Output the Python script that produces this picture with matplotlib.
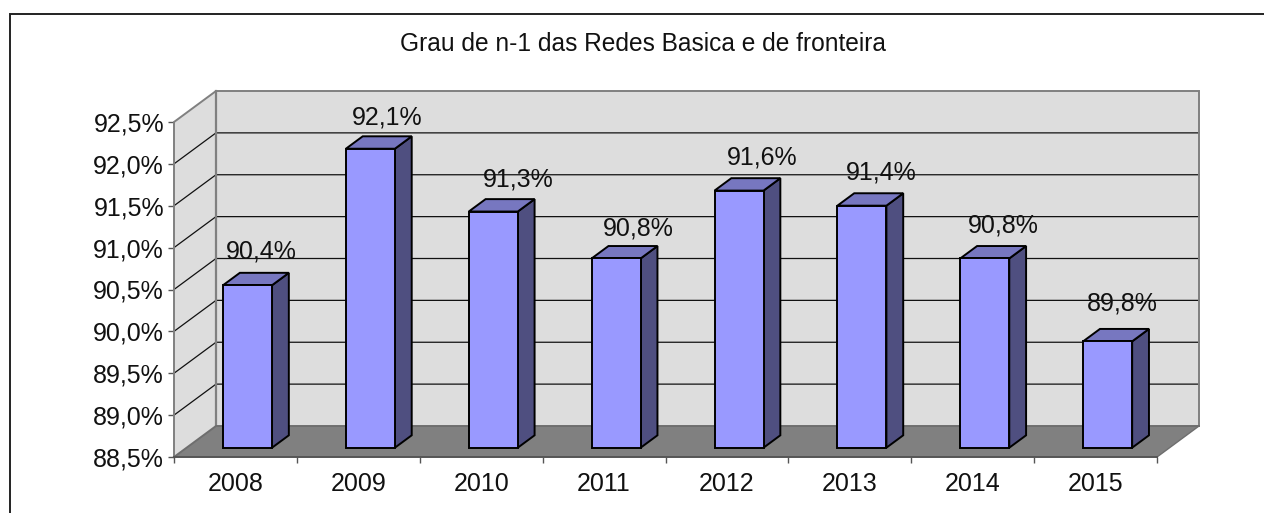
# plot.py - Grau de n-1 (fake 3D column chart)
import matplotlib
matplotlib.use("Agg")
import matplotlib.pyplot as plt
from matplotlib.lines import Line2D
from matplotlib.ticker import FixedLocator, FixedFormatter
import numpy as np

plt.rcParams['font.family'] = ['Liberation Sans', 'DejaVu Sans']

years = ['2008', '2009', '2010', '2011', '2012', '2013', '2014', '2015']
values = [90.44, 92.07, 91.32, 90.76, 91.57, 91.39, 90.76, 89.77]
value_labels = ['90,4%', '92,1%', '91,3%', '90,8%', '91,6%', '91,4%', '90,8%', '89,8%']
y_ticks = [88.5, 89.0, 89.5, 90.0, 90.5, 91.0, 91.5, 92.0, 92.5]
y_labels = ['88,5%', '89,0%', '89,5%', '90,0%', '90,5%', '91,0%', '91,5%', '92,0%', '92,5%']
title = 'Grau de n-1 das Redes Basica e de fronteira'

# the data labels were nudged by hand in the original, offsets in pixels
label_dx = [13.4, 16.6, 24.7, 21.8, 22.9, 19.0, 18.2, 14.3]
label_dy = [33.7, 31.2, 32.0, 29.9, 33.1, 33.2, 32.9, 37.8]

W, H = 1264, 513
FS = 18
WALL = '#DDDDDD'
FLOOR = '#808080'
EDGE = '#808080'
FRONT = '#9999FF'
TOP = '#7777C0'
SIDE = '#4F4F80'
INK = '#111111'

fig = plt.figure(figsize=(W / 100, H / 100), dpi=100)
# front plane of the fake 3D box, in pixels
x0, x1, y_top, y_bot = 174, 1157, 122, 457
ax = fig.add_axes([x0 / W, 1 - y_bot / H, (x1 - x0) / W, (y_bot - y_top) / H])
ax.set_xlim(0, 8)
ax.set_ylim(88.5, 92.5)
ax.patch.set_visible(False)
for s in ax.spines.values():
    s.set_visible(False)

# depth of the box in data units
px_x = (x1 - x0) / 8
dx = 42 / px_x
dy = 31 / ((y_bot - y_top) / 4)
ymin, ymax = y_ticks[0], y_ticks[-1]

# walls and floor
ax.fill([dx, 8 + dx, 8 + dx, dx], [ymin + dy, ymin + dy, ymax + dy, ymax + dy],
        fc=WALL, ec='none', zorder=1, clip_on=False)
ax.fill([0, dx, dx, 0], [ymin, ymin + dy, ymax + dy, ymax],
        fc=WALL, ec='none', zorder=1, clip_on=False)
ax.fill([0, 8, 8 + dx, dx], [ymin, ymin, ymin + dy, ymin + dy],
        fc=FLOOR, ec='none', zorder=2, clip_on=False)

# gridlines, back wall plus the diagonal on the side wall
for t in y_ticks[1:-1]:
    ax.plot([0, dx, 8 + dx], [t, t + dy, t + dy], color=INK, lw=0.9,
            zorder=2, clip_on=False, solid_joinstyle='miter')

# box outline
ax.plot([0, 0, dx, 8 + dx, 8 + dx], [ymin, ymax, ymax + dy, ymax + dy, ymin + dy],
        color=EDGE, lw=1.4, zorder=3, clip_on=False, solid_joinstyle='miter')
ax.plot([dx, dx], [ymin + dy, ymax + dy], color=EDGE, lw=1.6, zorder=3, clip_on=False)
ax.plot([0, dx, 8 + dx], [ymin, ymin + dy, ymin + dy], color='#6E6E6E', lw=1.4,
        zorder=3, clip_on=False)
ax.plot([8, 8 + dx], [ymin, ymin + dy], color='#6E6E6E', lw=1.0, zorder=3, clip_on=False)
ax.plot([0, 8], [ymin, ymin], color='#555555', lw=1.4, zorder=6, clip_on=False)

# bars: front face through ax.bar, top and side as skewed polygons
bar_w = 49 / px_x
ddx = dx * 0.4
ddy = dy * 0.4
off_x = dx * 0.3 - 0.5 / px_x
off_y = dy * 0.3
xs = np.arange(len(years)) + 0.5 + off_x
base = ymin + off_y
for i, (x, v, lab) in enumerate(zip(xs, values, value_labels)):
    top = v + off_y
    l, r = x - bar_w / 2, x + bar_w / 2
    ax.fill([r, r + ddx, r + ddx, r], [base, base + ddy, top + ddy, top],
            fc=SIDE, ec='black', lw=1.4, zorder=4, clip_on=False)
    ax.fill([l, r, r + ddx, l + ddx], [top, top, top + ddy, top + ddy],
            fc=TOP, ec='black', lw=1.4, zorder=4, clip_on=False)
    ax.bar(x, top - base, bar_w, bottom=base, color=FRONT, edgecolor='black',
           linewidth=1.4, zorder=5)
    ax.annotate(lab, (x, top), xytext=(label_dx[i] * 0.72, label_dy[i] * 0.72),
                textcoords='offset points', ha='center', va='center',
                fontsize=FS, color=INK, zorder=7, annotation_clip=False)

# axes ticks
ax.yaxis.set_major_locator(FixedLocator(y_ticks))
ax.yaxis.set_major_formatter(FixedFormatter(y_labels))
ax.xaxis.set_major_locator(FixedLocator(range(9)))
ax.xaxis.set_major_formatter(FixedFormatter([''] * 9))
ax.xaxis.set_minor_locator(FixedLocator(np.arange(len(years)) + 0.5))
ax.xaxis.set_minor_formatter(FixedFormatter(years))
ax.tick_params(axis='y', which='major', length=4, width=1, color='#555555',
               labelsize=FS, pad=3.2, labelcolor=INK)
ax.tick_params(axis='x', which='major', length=4, width=1, color='#555555')
ax.tick_params(axis='x', which='minor', length=0, labelsize=FS, pad=11, labelcolor=INK)
for t in ax.get_yticklabels():
    t.set_va('center_baseline')

fig.text(643.5 / W, 1 - 44 / H, title, ha='center', va='center', fontsize=17.65, color=INK)

# outer chart frame, bleeds off the right and bottom of the crop
fig.add_artist(Line2D([9.5 / W, 9.5 / W, 1], [0, 1 - 13.5 / H, 1 - 13.5 / H],
                      color='#222222', lw=1.4, solid_joinstyle='miter'))

fig.savefig('out.png', dpi=100)
